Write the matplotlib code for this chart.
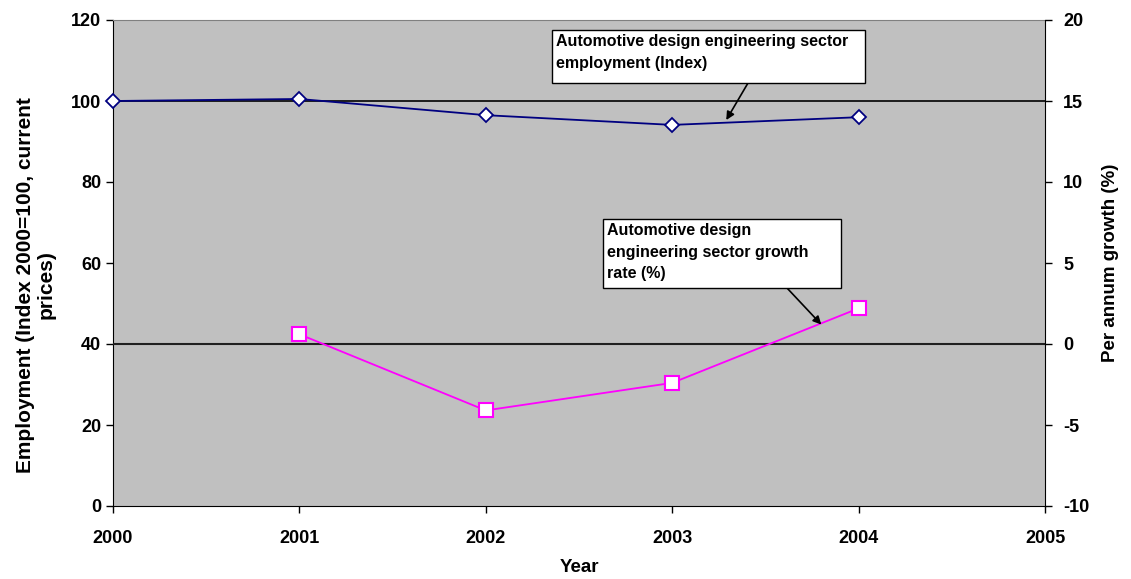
import matplotlib
matplotlib.use("Agg")
import matplotlib.pyplot as plt
from matplotlib.patches import Rectangle

plt.rcParams['font.family'] = ['Liberation Sans', 'DejaVu Sans']
plt.rcParams['font.weight'] = 'bold'
plt.rcParams['axes.unicode_minus'] = False

years = [2000, 2001, 2002, 2003, 2004]
employment_index = [100.0, 100.5, 96.5, 94.1, 96.0]
growth_years = [2001, 2002, 2003, 2004]
growth_rate = [0.6, -4.1, -2.4, 2.2]

left_ticks = [0, 20, 40, 60, 80, 100, 120]
right_ticks = [-10, -5, 0, 5, 10, 15, 20]
year_ticks = [2000, 2001, 2002, 2003, 2004, 2005]

W, H = 1131, 579
fig = plt.figure(figsize=(W / 100, H / 100), dpi=100)

def fx(px):
    return px / W

def fy(py):
    return 1 - py / H

ax = fig.add_axes([fx(113), fy(506), fx(1045) - fx(113), fy(20) - fy(506)])
ax.set_facecolor('#C0C0C0')
ax.set_xlim(2000, 2005)
ax.set_ylim(0, 120)
ax.set_xticks(year_ticks)
ax.set_yticks(left_ticks)
ax.tick_params(labelsize=13, length=5, width=1, direction='out')
ax.tick_params(axis='x', pad=12)

for side in ['left', 'bottom']:
    ax.spines[side].set_color('black')
ax.spines['top'].set_color('#808080')
ax.spines['right'].set_visible(False)

ax.axhline(100, color='black', lw=1.2, zorder=1)
ax.plot(years, employment_index, color='#000080', lw=1.3, marker='D', ms=7,
        mfc='white', mec='#000080', mew=1.3, zorder=3, clip_on=False)
ax.set_xlabel('Year', fontsize=13.5, fontweight='bold', labelpad=9)
ax.set_ylabel('Employment (Index 2000=100, current\nprices)', fontsize=15,
              fontweight='bold', linespacing=1.05)
ax.yaxis.set_label_coords(-0.062, 0.455)

ax2 = ax.twinx()
ax2.set_ylim(-10, 20)
ax2.set_yticks(right_ticks)
ax2.tick_params(labelsize=13, length=5, width=1, direction='out', pad=8)
for side in ['left', 'top', 'bottom']:
    ax2.spines[side].set_visible(False)
ax2.spines['right'].set_color('black')
ax2.axhline(0, color='#202020', lw=1.5, zorder=1)
ax2.plot(growth_years, growth_rate, color='#FF00FF', lw=1.3, marker='s', ms=10,
         mfc='white', mec='#FF00FF', mew=1.5, zorder=3)
ax2.set_ylabel('Per annum growth (%)', fontsize=13.5, fontweight='bold', labelpad=9)

# callout boxes with arrows pointing at each series
def callout(x0, y0, x1, y1, text, tip_xy, tip_ax, base_px):
    fig.patches.append(Rectangle((fx(x0), fy(y1)), fx(x1) - fx(x0), fy(y0) - fy(y1),
                                 transform=fig.transFigure, facecolor='white',
                                 edgecolor='black', lw=1, zorder=5))
    fig.text(fx(x0 + 4), fy(y0 + 4), text, fontsize=11.5, fontweight='bold',
             ha='left', va='top', linespacing=1.55, zorder=6)
    tip_ax.annotate('', xy=tip_xy, xycoords='data',
                    xytext=(fx(base_px[0]), fy(base_px[1])), textcoords='figure fraction',
                    arrowprops=dict(arrowstyle='-|>', color='black', lw=1.2,
                                    mutation_scale=12, shrinkA=0, shrinkB=0),
                    zorder=6)

callout(552, 30, 865, 83, 'Automotive design engineering sector\nemployment (Index)',
        (2003.29, 95.3), ax, (748, 83))
callout(603, 219, 841, 288, 'Automotive design\nengineering sector growth\nrate (%)',
        (2003.80, 1.2), ax2, (787, 288))

fig.savefig('out.png', dpi=100)
